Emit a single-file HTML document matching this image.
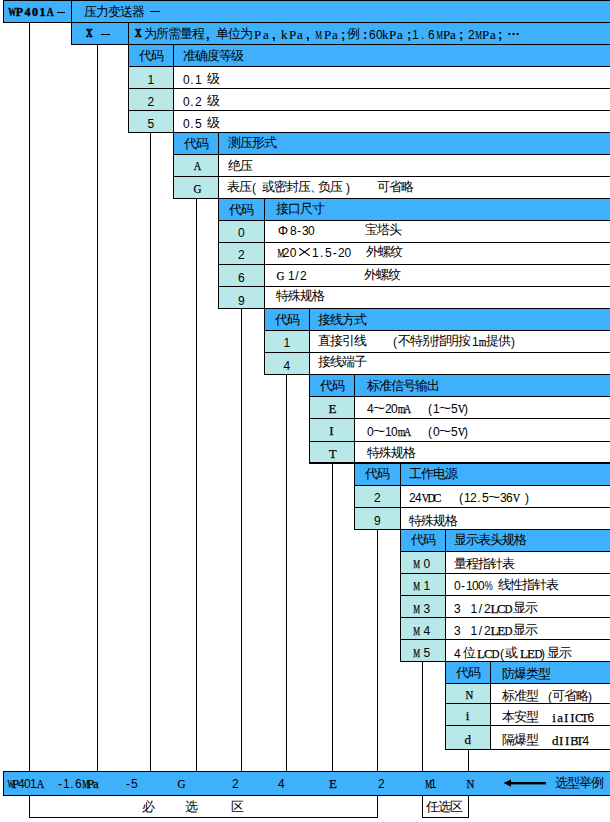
<!DOCTYPE html><html><head><meta charset="utf-8"><style>
*{margin:0;padding:0}
html,body{width:610px;height:822px;background:#fff;overflow:hidden}
body{position:relative;font-family:"Liberation Sans",sans-serif;font-size:12px;color:#000}
i{position:absolute;display:block}
b{position:absolute;font-weight:normal;white-space:pre;line-height:22px;height:22px}
b.c{text-align:center}
u{display:inline-block;text-decoration:none;text-align:center;vertical-align:top;position:relative}
u.w{width:12px;font-size:13px;top:1px}
u.h{width:6px;font-size:12px;top:2px}
u.l{font-family:"Liberation Serif",serif;font-size:13px;-webkit-text-stroke:0.25px #000}
u.s{transform:scaleX(1.7)}
u.lw{top:2px}
b.big{font-family:"Liberation Serif",serif;font-weight:bold;font-size:12px;-webkit-text-stroke:0.4px #000}
b.bold1 u.p{font-weight:bold;font-size:13px}
b.bold1 u.h{text-align:left}
b.bold1 u.l{-webkit-text-stroke:0.1px #000}
u.x{transform:scale(1.9,1.6)}
b.x{font-family:"Liberation Serif",serif;font-weight:bold;font-size:13px;transform:scaleX(0.7);-webkit-text-stroke:0.7px #000;transform-origin:0 0}
</style></head><body><i style="left:3px;top:0px;width:607px;height:22px;background:#3fb1fc"></i><i style="left:71px;top:22px;width:539px;height:22px;background:#3fb1fc"></i><i style="left:128px;top:44px;width:482px;height:22px;background:#3fb1fc"></i><i style="left:128px;top:66px;width:45px;height:22px;background:#b8e8e8"></i><i style="left:128px;top:88px;width:45px;height:22px;background:#b8e8e8"></i><i style="left:128px;top:110px;width:45px;height:22px;background:#b8e8e8"></i><i style="left:173px;top:132px;width:437px;height:22px;background:#3fb1fc"></i><i style="left:173px;top:154px;width:45px;height:22px;background:#b8e8e8"></i><i style="left:173px;top:176px;width:45px;height:22px;background:#b8e8e8"></i><i style="left:218px;top:198px;width:392px;height:22px;background:#3fb1fc"></i><i style="left:218px;top:220px;width:46px;height:22px;background:#b8e8e8"></i><i style="left:218px;top:242px;width:46px;height:22px;background:#b8e8e8"></i><i style="left:218px;top:264px;width:46px;height:22px;background:#b8e8e8"></i><i style="left:218px;top:286px;width:46px;height:22px;background:#b8e8e8"></i><i style="left:264px;top:308px;width:346px;height:22px;background:#3fb1fc"></i><i style="left:264px;top:330px;width:45px;height:22px;background:#b8e8e8"></i><i style="left:264px;top:352px;width:45px;height:22px;background:#b8e8e8"></i><i style="left:309px;top:374px;width:301px;height:22px;background:#3fb1fc"></i><i style="left:309px;top:396px;width:45px;height:22px;background:#b8e8e8"></i><i style="left:309px;top:418px;width:45px;height:23px;background:#b8e8e8"></i><i style="left:309px;top:441px;width:45px;height:21px;background:#b8e8e8"></i><i style="left:354px;top:462px;width:256px;height:23px;background:#3fb1fc"></i><i style="left:354px;top:485px;width:46px;height:22px;background:#b8e8e8"></i><i style="left:354px;top:507px;width:46px;height:22px;background:#b8e8e8"></i><i style="left:400px;top:529px;width:210px;height:22px;background:#3fb1fc"></i><i style="left:400px;top:551px;width:45px;height:22px;background:#b8e8e8"></i><i style="left:400px;top:573px;width:45px;height:22px;background:#b8e8e8"></i><i style="left:400px;top:595px;width:45px;height:22px;background:#b8e8e8"></i><i style="left:400px;top:617px;width:45px;height:22px;background:#b8e8e8"></i><i style="left:400px;top:639px;width:45px;height:22px;background:#b8e8e8"></i><i style="left:445px;top:661px;width:165px;height:22px;background:#3fb1fc"></i><i style="left:445px;top:683px;width:45px;height:20px;background:#b8e8e8"></i><i style="left:445px;top:703px;width:45px;height:22px;background:#b8e8e8"></i><i style="left:445px;top:725px;width:45px;height:24px;background:#b8e8e8"></i><i style="left:3px;top:771px;width:607px;height:24px;background:#3fb1fc"></i><i style="left:3px;top:0px;width:607px;height:1px;background:#000"></i><i style="left:3px;top:22px;width:607px;height:1px;background:#000"></i><i style="left:71px;top:44px;width:539px;height:1px;background:#000"></i><i style="left:3px;top:0px;width:1px;height:23px;background:#000"></i><i style="left:71px;top:0px;width:1px;height:45px;background:#000"></i><i style="left:128px;top:22px;width:1px;height:23px;background:#000"></i><i style="left:128px;top:44px;width:482px;height:1px;background:#000"></i><i style="left:128px;top:66px;width:482px;height:1px;background:#000"></i><i style="left:128px;top:88px;width:482px;height:1px;background:#000"></i><i style="left:128px;top:110px;width:482px;height:1px;background:#000"></i><i style="left:128px;top:132px;width:482px;height:1px;background:#000"></i><i style="left:128px;top:44px;width:1px;height:89px;background:#000"></i><i style="left:173px;top:44px;width:1px;height:89px;background:#000"></i><i style="left:173px;top:132px;width:437px;height:1px;background:#000"></i><i style="left:173px;top:154px;width:437px;height:1px;background:#000"></i><i style="left:173px;top:176px;width:437px;height:1px;background:#000"></i><i style="left:173px;top:198px;width:437px;height:1px;background:#000"></i><i style="left:173px;top:132px;width:1px;height:67px;background:#000"></i><i style="left:218px;top:132px;width:1px;height:67px;background:#000"></i><i style="left:218px;top:198px;width:392px;height:1px;background:#000"></i><i style="left:218px;top:220px;width:392px;height:1px;background:#000"></i><i style="left:218px;top:242px;width:392px;height:1px;background:#000"></i><i style="left:218px;top:264px;width:392px;height:1px;background:#000"></i><i style="left:218px;top:286px;width:392px;height:1px;background:#000"></i><i style="left:218px;top:308px;width:392px;height:1px;background:#000"></i><i style="left:218px;top:198px;width:1px;height:111px;background:#000"></i><i style="left:264px;top:198px;width:1px;height:111px;background:#000"></i><i style="left:264px;top:308px;width:346px;height:1px;background:#000"></i><i style="left:264px;top:330px;width:346px;height:1px;background:#000"></i><i style="left:264px;top:352px;width:346px;height:1px;background:#000"></i><i style="left:264px;top:374px;width:346px;height:1px;background:#000"></i><i style="left:264px;top:308px;width:1px;height:67px;background:#000"></i><i style="left:309px;top:308px;width:1px;height:67px;background:#000"></i><i style="left:309px;top:374px;width:301px;height:1px;background:#000"></i><i style="left:309px;top:396px;width:301px;height:1px;background:#000"></i><i style="left:309px;top:418px;width:301px;height:1px;background:#000"></i><i style="left:309px;top:441px;width:301px;height:1px;background:#000"></i><i style="left:309px;top:462px;width:301px;height:1px;background:#000"></i><i style="left:309px;top:374px;width:1px;height:89px;background:#000"></i><i style="left:354px;top:374px;width:1px;height:89px;background:#000"></i><i style="left:354px;top:462px;width:256px;height:1px;background:#000"></i><i style="left:354px;top:485px;width:256px;height:1px;background:#000"></i><i style="left:354px;top:507px;width:256px;height:1px;background:#000"></i><i style="left:354px;top:529px;width:256px;height:1px;background:#000"></i><i style="left:354px;top:462px;width:1px;height:68px;background:#000"></i><i style="left:400px;top:462px;width:1px;height:68px;background:#000"></i><i style="left:400px;top:529px;width:210px;height:1px;background:#000"></i><i style="left:400px;top:551px;width:210px;height:1px;background:#000"></i><i style="left:400px;top:573px;width:210px;height:1px;background:#000"></i><i style="left:400px;top:595px;width:210px;height:1px;background:#000"></i><i style="left:400px;top:617px;width:210px;height:1px;background:#000"></i><i style="left:400px;top:639px;width:210px;height:1px;background:#000"></i><i style="left:400px;top:661px;width:210px;height:1px;background:#000"></i><i style="left:400px;top:529px;width:1px;height:133px;background:#000"></i><i style="left:445px;top:529px;width:1px;height:133px;background:#000"></i><i style="left:445px;top:661px;width:165px;height:1px;background:#000"></i><i style="left:445px;top:683px;width:165px;height:1px;background:#000"></i><i style="left:445px;top:703px;width:165px;height:1px;background:#000"></i><i style="left:445px;top:725px;width:165px;height:1px;background:#000"></i><i style="left:445px;top:749px;width:165px;height:1px;background:#000"></i><i style="left:445px;top:661px;width:1px;height:89px;background:#000"></i><i style="left:490px;top:661px;width:1px;height:89px;background:#000"></i><i style="left:309px;top:463px;width:301px;height:1px;background:#000"></i><i style="left:29px;top:22px;width:1px;height:749px;background:#000"></i><i style="left:97px;top:44px;width:1px;height:727px;background:#000"></i><i style="left:150px;top:132px;width:1px;height:639px;background:#000"></i><i style="left:196px;top:198px;width:1px;height:573px;background:#000"></i><i style="left:241px;top:308px;width:1px;height:463px;background:#000"></i><i style="left:286px;top:374px;width:1px;height:397px;background:#000"></i><i style="left:332px;top:462px;width:1px;height:309px;background:#000"></i><i style="left:377px;top:529px;width:1px;height:242px;background:#000"></i><i style="left:422px;top:661px;width:1px;height:110px;background:#000"></i><i style="left:468px;top:749px;width:1px;height:22px;background:#000"></i><i style="left:3px;top:771px;width:607px;height:1px;background:#000"></i><i style="left:3px;top:795px;width:607px;height:1px;background:#000"></i><i style="left:3px;top:771px;width:1px;height:25px;background:#000"></i><i style="left:29px;top:795px;width:1px;height:23px;background:#000"></i><i style="left:377px;top:795px;width:1px;height:23px;background:#000"></i><i style="left:29px;top:817px;width:349px;height:1px;background:#000"></i><i style="left:422px;top:795px;width:1px;height:23px;background:#000"></i><i style="left:468px;top:795px;width:1px;height:23px;background:#000"></i><i style="left:422px;top:817px;width:47px;height:1px;background:#000"></i><svg style="position:absolute;left:500px;top:777px" width="48" height="12"><path d="M3.5 6 L11 2.5 L11 9.8 Z" fill="#000"/><rect x="10" y="5" width="36" height="2.4" fill="#000"/></svg><b class="c" style="left:128px;top:44px;width:45px"><u class="w">代</u><u class="w">码</u></b><b class="t" style="left:183px;top:44px;"><u class="w">准</u><u class="w">确</u><u class="w">度</u><u class="w">等</u><u class="w">级</u></b><b class="c" style="left:128px;top:67px;width:45px"><u class="h">1</u></b><b class="t" style="left:183px;top:67px;"><u class="h">0</u><u class="h">.</u><u class="h">1</u><u class="h"> </u><u class="w">级</u></b><b class="c" style="left:128px;top:89px;width:45px"><u class="h">2</u></b><b class="t" style="left:183px;top:89px;"><u class="h">0</u><u class="h">.</u><u class="h">2</u><u class="h"> </u><u class="w">级</u></b><b class="c" style="left:128px;top:111px;width:45px"><u class="h">5</u></b><b class="t" style="left:183px;top:111px;"><u class="h">0</u><u class="h">.</u><u class="h">5</u><u class="h"> </u><u class="w">级</u></b><b class="c" style="left:173px;top:132px;width:45px"><u class="w">代</u><u class="w">码</u></b><b class="t" style="left:228px;top:131px;"><u class="w">测</u><u class="w">压</u><u class="w">形</u><u class="w">式</u></b><b class="c" style="left:173px;top:153px;width:45px"><u class="h l" style="transform:scaleX(0.79)">A</u></b><b class="t" style="left:228px;top:154px;"><u class="w">绝</u><u class="w">压</u></b><b class="c" style="left:173px;top:176px;width:45px"><u class="h l" style="transform:scaleX(0.85)">G</u></b><b class="t" style="left:227px;top:175px;"><u class="w">表</u><u class="w">压</u></b><b class="t" style="left:251px;top:175px;"><u class="h">(</u></b><b class="t" style="left:262px;top:175px;"><u class="w">或</u><u class="w">密</u><u class="w">封</u><u class="w">压</u></b><b class="t" style="left:310px;top:175px;"><u class="w">、</u></b><b class="t" style="left:318px;top:175px;"><u class="w">负</u><u class="w">压</u></b><b class="t" style="left:345px;top:175px;"><u class="h">)</u></b><b class="t" style="left:377px;top:175px;"><u class="w">可</u><u class="w">省</u><u class="w">略</u></b><b class="c" style="left:218px;top:198px;width:46px"><u class="w">代</u><u class="w">码</u></b><b class="t" style="left:276px;top:197px;"><u class="w">接</u><u class="w">口</u><u class="w">尺</u><u class="w">寸</u></b><b class="c" style="left:218px;top:220px;width:46px"><u class="h">0</u></b><b class="t" style="left:277px;top:218px;"><u class="w lw" style="width:12px">Φ</u></b><b class="t" style="left:290px;top:218px;"><u class="h">8</u><u class="h">-</u><u class="h">3</u><u class="h">0</u></b><b class="t" style="left:365px;top:218px;"><u class="w">宝</u><u class="w">塔</u><u class="w">头</u></b><b class="c" style="left:218px;top:242px;width:46px"><u class="h">2</u></b><b class="t" style="left:276px;top:240px;"><u class="h l" style="width:6.8px;transform:scaleX(0.59)">M</u><u class="h" style="width:6.8px">2</u><u class="h" style="width:6.8px">0</u></b><b class="t" style="left:298px;top:240px;"><u class="w" style="width:12px;height:22px;vertical-align:top;top:0"><svg width="12" height="22" style="position:absolute;left:0;top:0"><path d="M1.2 8.3L11.8 15.7M11.8 8.3L1.2 15.7" stroke="#000" stroke-width="1.1" fill="none"/></svg></u></b><b class="t" style="left:312px;top:240px;"><u class="h" style="width:6.5px">1</u><u class="h" style="width:6.5px">.</u><u class="h" style="width:6.5px">5</u><u class="h" style="width:6.5px">-</u><u class="h" style="width:6.5px">2</u><u class="h" style="width:6.5px">0</u></b><b class="t" style="left:366px;top:240px;"><u class="w">外</u><u class="w">螺</u><u class="w">纹</u></b><b class="c" style="left:218px;top:265px;width:46px"><u class="h">6</u></b><b class="t" style="left:276px;top:263px;"><u class="h l" style="transform:scaleX(0.85)">G</u><u class="h"> </u><u class="h">1</u><u class="h">/</u><u class="h">2</u></b><b class="t" style="left:364px;top:263px;"><u class="w">外</u><u class="w">螺</u><u class="w">纹</u></b><b class="c" style="left:218px;top:288px;width:46px"><u class="h">9</u></b><b class="t" style="left:276px;top:284px;"><u class="w">特</u><u class="w">殊</u><u class="w">规</u><u class="w">格</u></b><b class="c" style="left:264px;top:308px;width:45px"><u class="w">代</u><u class="w">码</u></b><b class="t" style="left:318px;top:308px;"><u class="w">接</u><u class="w">线</u><u class="w">方</u><u class="w">式</u></b><b class="c" style="left:264px;top:330px;width:45px"><u class="h">1</u></b><b class="t" style="left:318px;top:329px;"><u class="w">直</u><u class="w">接</u><u class="w">引</u><u class="w">线</u></b><b class="t" style="left:392px;top:329px;"><u class="h">(</u><u class="w">不</u><u class="w">特</u><u class="w">别</u><u class="w">指</u><u class="w">明</u><u class="w">按</u></b><b class="t" style="left:472px;top:329px;"><u class="h">1</u><u class="h l" style="transform:scaleX(0.75)">m</u></b><b class="t" style="left:486px;top:329px;"><u class="w">提</u><u class="w">供</u><u class="h">)</u></b><b class="c" style="left:264px;top:353px;width:45px"><u class="h">4</u></b><b class="t" style="left:318px;top:350px;"><u class="w">接</u><u class="w">线</u><u class="w">端</u><u class="w">子</u></b><b class="c" style="left:309px;top:374px;width:45px"><u class="w">代</u><u class="w">码</u></b><b class="t" style="left:367px;top:374px;"><u class="w">标</u><u class="w">准</u><u class="w">信</u><u class="w">号</u><u class="w">输</u><u class="w">出</u></b><b class="c" style="left:309px;top:396px;width:45px"><u class="h l">E</u></b><b class="t" style="left:367px;top:396px;"><u class="h">4</u><u class="w s" style="width:12px">~</u><u class="h">2</u><u class="h">0</u><u class="h l" style="transform:scaleX(0.75)">m</u><u class="h l" style="transform:scaleX(0.79)">A</u></b><b class="t" style="left:427px;top:396px;"><u class="h">(</u><u class="h">1</u><u class="w s" style="width:12px">~</u><u class="h">5</u><u class="h l" style="transform:scaleX(0.79)">V</u><u class="h">)</u></b><b class="c" style="left:309px;top:418px;width:45px"><u class="h l">I</u></b><b class="t" style="left:367px;top:419px;"><u class="h">0</u><u class="w s" style="width:12px">~</u><u class="h">1</u><u class="h">0</u><u class="h l" style="transform:scaleX(0.75)">m</u><u class="h l" style="transform:scaleX(0.79)">A</u></b><b class="t" style="left:427px;top:419px;"><u class="h">(</u><u class="h">0</u><u class="w s" style="width:12px">~</u><u class="h">5</u><u class="h l" style="transform:scaleX(0.79)">V</u><u class="h">)</u></b><b class="c" style="left:309px;top:441px;width:45px"><u class="h l" style="transform:scaleX(0.96)">T</u></b><b class="t" style="left:367px;top:441px;"><u class="w">特</u><u class="w">殊</u><u class="w">规</u><u class="w">格</u></b><b class="c" style="left:354px;top:462px;width:46px"><u class="w">代</u><u class="w">码</u></b><b class="t" style="left:409px;top:462px;"><u class="w">工</u><u class="w">作</u><u class="w">电</u><u class="w">源</u></b><b class="c" style="left:354px;top:485px;width:46px"><u class="h">2</u></b><b class="t" style="left:409px;top:485px;"><u class="h">2</u><u class="h">4</u><u class="h l" style="transform:scaleX(0.79)">V</u><u class="h l" style="transform:scaleX(0.85)">D</u><u class="h l" style="transform:scaleX(0.97)">C</u></b><b class="t" style="left:458px;top:485px;"><u class="h">(</u><u class="h">1</u><u class="h">2</u><u class="h">.</u><u class="h">5</u><u class="w s" style="width:12px">~</u><u class="h">3</u><u class="h">6</u><u class="h l" style="transform:scaleX(0.79)">V</u><u class="h"> </u><u class="h">)</u></b><b class="c" style="left:354px;top:508px;width:46px"><u class="h">9</u></b><b class="t" style="left:409px;top:509px;"><u class="w">特</u><u class="w">殊</u><u class="w">规</u><u class="w">格</u></b><b class="c" style="left:400px;top:528px;width:45px"><u class="w">代</u><u class="w">码</u></b><b class="t" style="left:454px;top:528px;"><u class="w">显</u><u class="w">示</u><u class="w">表</u><u class="w">头</u><u class="w">规</u><u class="w">格</u></b><b class="c" style="left:398px;top:551px;width:45px"><u class="h l" style="transform:scaleX(0.59)">M</u><u class="h"> </u><u class="h">0</u></b><b class="t" style="left:454px;top:552px;"><u class="w">量</u><u class="w">程</u><u class="w">指</u><u class="w">针</u><u class="w">表</u></b><b class="c" style="left:398px;top:573px;width:45px"><u class="h l" style="transform:scaleX(0.59)">M</u><u class="h"> </u><u class="h">1</u></b><b class="t" style="left:454px;top:573px;"><u class="h">0</u><u class="h">-</u><u class="h">1</u><u class="h">0</u><u class="h">0</u><u class="h" style="width:6px;transform:scaleX(0.75)">%</u></b><b class="t" style="left:498px;top:573px;"><u class="w">线</u><u class="w">性</u><u class="w">指</u><u class="w">针</u><u class="w">表</u></b><b class="c" style="left:398px;top:596px;width:45px"><u class="h l" style="transform:scaleX(0.59)">M</u><u class="h"> </u><u class="h">3</u></b><b class="t" style="left:454px;top:596px;"><u class="h">3</u></b><b class="t" style="left:470.5px;top:596px;"><u class="h" style="width:6.7px">1</u><u class="h" style="width:6.7px">/</u><u class="h" style="width:6.7px">2</u><u class="h l" style="width:6.7px;">L</u><u class="h l" style="width:6.7px;transform:scaleX(0.97)">C</u><u class="h l" style="width:6.7px;transform:scaleX(0.85)">D</u></b><b class="t" style="left:513px;top:596px;"><u class="w">显</u><u class="w">示</u></b><b class="c" style="left:398px;top:618px;width:45px"><u class="h l" style="transform:scaleX(0.59)">M</u><u class="h"> </u><u class="h">4</u></b><b class="t" style="left:454px;top:618px;"><u class="h">3</u></b><b class="t" style="left:470.5px;top:618px;"><u class="h" style="width:6.7px">1</u><u class="h" style="width:6.7px">/</u><u class="h" style="width:6.7px">2</u><u class="h l" style="width:6.7px;">L</u><u class="h l" style="width:6.7px;">E</u><u class="h l" style="width:6.7px;transform:scaleX(0.85)">D</u></b><b class="t" style="left:513px;top:618px;"><u class="w">显</u><u class="w">示</u></b><b class="c" style="left:398px;top:640px;width:45px"><u class="h l" style="transform:scaleX(0.59)">M</u><u class="h"> </u><u class="h">5</u></b><b class="t" style="left:454px;top:641px;"><u class="h">4</u></b><b class="t" style="left:463px;top:641px;"><u class="w">位</u></b><b class="t" style="left:477px;top:641px;"><u class="h l" style="width:7.2px;">L</u><u class="h l" style="width:7.2px;transform:scaleX(0.97)">C</u><u class="h l" style="width:7.2px;transform:scaleX(0.85)">D</u></b><b class="t" style="left:500px;top:641px;"><u class="h" style="width:4px">(</u></b><b class="t" style="left:505px;top:641px;"><u class="w">或</u></b><b class="t" style="left:520px;top:641px;"><u class="h l" style="width:7px;">L</u><u class="h l" style="width:7px;">E</u><u class="h l" style="width:7px;transform:scaleX(0.85)">D</u></b><b class="t" style="left:541px;top:641px;"><u class="h" style="width:4px">)</u></b><b class="t" style="left:547px;top:641px;"><u class="w">显</u><u class="w">示</u></b><b class="c" style="left:445px;top:661px;width:45px"><u class="w">代</u><u class="w">码</u></b><b class="t" style="left:502px;top:662px;"><u class="w">防</u><u class="w">爆</u><u class="w">类</u><u class="w">型</u></b><b class="c" style="left:445px;top:682px;width:45px"><u class="h l" style="transform:scaleX(0.83)">N</u></b><b class="t" style="left:502px;top:684px;"><u class="w">标</u><u class="w">准</u><u class="w">型</u></b><b class="t" style="left:548px;top:684px;"><u class="h" style="width:4px">(</u></b><b class="t" style="left:552px;top:684px;"><u class="w">可</u><u class="w">省</u><u class="w">略</u></b><b class="t" style="left:588px;top:684px;"><u class="h" style="width:4px">)</u></b><b class="c" style="left:445px;top:703px;width:45px"><u class="h l">i</u></b><b class="t" style="left:502px;top:705px;"><u class="w">本</u><u class="w">安</u><u class="w">型</u></b><b class="t" style="left:551px;top:705px;"><u class="h l" style="width:6.1px;">i</u><u class="h l" style="width:6.1px;">a</u><u class="h l" style="width:6.1px;">I</u><u class="h l" style="width:6.1px;">I</u><u class="h l" style="width:6.1px;transform:scaleX(0.97)">C</u><u class="h l" style="width:6.1px;transform:scaleX(0.96)">T</u><u class="h" style="width:6.1px">6</u></b><b class="c" style="left:445px;top:727px;width:45px"><u class="h l">d</u></b><b class="t" style="left:502px;top:728px;"><u class="w">隔</u><u class="w">爆</u><u class="w">型</u></b><b class="t" style="left:552px;top:728px;"><u class="h l" style="width:6.1px;">d</u><u class="h l" style="width:6.1px;">I</u><u class="h l" style="width:6.1px;">I</u><u class="h l" style="width:6.1px;transform:scaleX(0.94)">B</u><u class="h l" style="width:6.1px;transform:scaleX(0.96)">T</u><u class="h" style="width:6.1px">4</u></b><b class="big" style="left:7px;top:1px;width:8px;text-align:center"><u style="width:8px;transform:scaleX(0.66)">W</u></b><b class="big" style="left:15.5px;top:1px;width:8px;text-align:center"><u style="width:8px;transform:scaleX(1.0)">P</u></b><b class="big" style="left:23.5px;top:1px;width:8px;text-align:center"><u style="width:8px;transform:scaleX(1.0)">4</u></b><b class="big" style="left:31px;top:1px;width:8px;text-align:center"><u style="width:8px;transform:scaleX(1.0)">0</u></b><b class="big" style="left:38.5px;top:1px;width:8px;text-align:center"><u style="width:8px;transform:scaleX(1.0)">1</u></b><b class="big" style="left:46px;top:1px;width:8px;text-align:center"><u style="width:8px;transform:scaleX(0.8)">A</u></b><i style="left:57px;top:12px;width:8px;height:1px;background:#000"></i><b class="t" style="left:84px;top:0px;"><u class="w">压</u><u class="w">力</u><u class="w">变</u><u class="w">送</u><u class="w">器</u></b><i style="left:150px;top:11px;width:10px;height:1px;background:#000"></i><b class="x" style="left:86px;top:22px">X</b><i style="left:101px;top:34px;width:9px;height:1px;background:#000"></i><b class="x" style="left:135px;top:22px">X</b><b class="t bold1" style="left:144px;top:22px"><u class="w">为</u></b><b class="t bold1" style="left:156px;top:22px"><u class="w">所</u></b><b class="t bold1" style="left:168px;top:22px"><u class="w">需</u></b><b class="t bold1" style="left:180px;top:22px"><u class="w">量</u></b><b class="t bold1" style="left:192px;top:22px"><u class="w">程</u></b><b class="t bold1" style="left:206px;top:22px"><u class="h p" style="width:6px">,</u></b><b class="t bold1" style="left:216px;top:22px"><u class="w">单</u></b><b class="t bold1" style="left:228px;top:22px"><u class="w">位</u></b><b class="t bold1" style="left:240px;top:22px"><u class="w">为</u></b><b class="t bold1" style="left:254px;top:22px"><u class="h l">P</u></b><b class="t bold1" style="left:263px;top:22px"><u class="h l">a</u></b><b class="t bold1" style="left:272px;top:22px"><u class="h p" style="width:6px">,</u></b><b class="t bold1" style="left:281px;top:22px"><u class="h l">k</u></b><b class="t bold1" style="left:289px;top:22px"><u class="h l">P</u></b><b class="t bold1" style="left:297px;top:22px"><u class="h l">a</u></b><b class="t bold1" style="left:306px;top:22px"><u class="h p" style="width:6px">,</u></b><b class="t bold1" style="left:314px;top:22px"><u class="h l" style="transform:scaleX(0.59)">M</u></b><b class="t bold1" style="left:324px;top:22px"><u class="h l">P</u></b><b class="t bold1" style="left:332px;top:22px"><u class="h l">a</u></b><b class="t bold1" style="left:341px;top:22px"><u class="h p" style="width:6px">;</u></b><b class="t bold1" style="left:347px;top:22px"><u class="w">例</u></b><b class="t bold1" style="left:363px;top:22px"><u class="h p" style="width:6px">:</u></b><b class="t bold1" style="left:369px;top:22px"><u class="h">6</u></b><b class="t bold1" style="left:376px;top:22px"><u class="h">0</u></b><b class="t bold1" style="left:382px;top:22px"><u class="h l">k</u></b><b class="t bold1" style="left:389px;top:22px"><u class="h l">P</u></b><b class="t bold1" style="left:397px;top:22px"><u class="h l">a</u></b><b class="t bold1" style="left:407px;top:22px"><u class="h p" style="width:6px">;</u></b><b class="t bold1" style="left:412px;top:22px"><u class="h">1</u></b><b class="t bold1" style="left:421px;top:22px"><u class="h">.</u></b><b class="t bold1" style="left:428px;top:22px"><u class="h">6</u></b><b class="t bold1" style="left:435px;top:22px"><u class="h l" style="transform:scaleX(0.59)">M</u></b><b class="t bold1" style="left:443px;top:22px"><u class="h l">P</u></b><b class="t bold1" style="left:450px;top:22px"><u class="h l">a</u></b><b class="t bold1" style="left:459px;top:22px"><u class="h p" style="width:6px">;</u></b><b class="t bold1" style="left:468px;top:22px"><u class="h">2</u></b><b class="t bold1" style="left:474px;top:22px"><u class="h l" style="transform:scaleX(0.59)">M</u></b><b class="t bold1" style="left:482px;top:22px"><u class="h l">P</u></b><b class="t bold1" style="left:490px;top:22px"><u class="h l">a</u></b><b class="t bold1" style="left:498px;top:22px"><u class="h p" style="width:6px">;</u></b><b class="t bold1" style="left:507px;top:22px"><u class="w lw" style="width:12px;top:-2px;font-weight:bold">…</u></b><b class="m" style="left:6px;top:771px;"><u class="h l" style="transform:scaleX(0.54)">W</u><u class="h l">P</u><u class="h">4</u><u class="h">0</u><u class="h">1</u><u class="h l" style="transform:scaleX(0.79)">A</u></b><b class="m" style="left:57px;top:771px;"><u class="h">-</u><u class="h">1</u><u class="h">.</u><u class="h">6</u><u class="h l" style="transform:scaleX(0.59)">M</u><u class="h l">P</u><u class="h l">a</u></b><b class="m" style="left:125px;top:771px;"><u class="h">-</u><u class="h">5</u></b><b class="m" style="left:177px;top:771px;"><u class="h l" style="transform:scaleX(0.85)">G</u></b><b class="m" style="left:232px;top:771px;"><u class="h">2</u></b><b class="m" style="left:278px;top:771px;"><u class="h">4</u></b><b class="m" style="left:329px;top:771px;"><u class="h l">E</u></b><b class="m" style="left:378px;top:771px;"><u class="h">2</u></b><b class="m" style="left:424px;top:771px;"><u class="h l" style="transform:scaleX(0.59)">M</u><u class="h">1</u></b><b class="m" style="left:466px;top:771px;"><u class="h l" style="transform:scaleX(0.83)">N</u></b><b class="t" style="left:555px;top:771px;"><u class="w">选</u><u class="w">型</u><u class="w">举</u><u class="w">例</u></b><b class="t" style="left:142px;top:795px;"><u class="w">必</u></b><b class="t" style="left:185px;top:795px;"><u class="w">选</u></b><b class="t" style="left:231px;top:795px;"><u class="w">区</u></b><b class="t" style="left:426px;top:795px;"><u class="w">任</u><u class="w">选</u><u class="w">区</u></b></body></html>
